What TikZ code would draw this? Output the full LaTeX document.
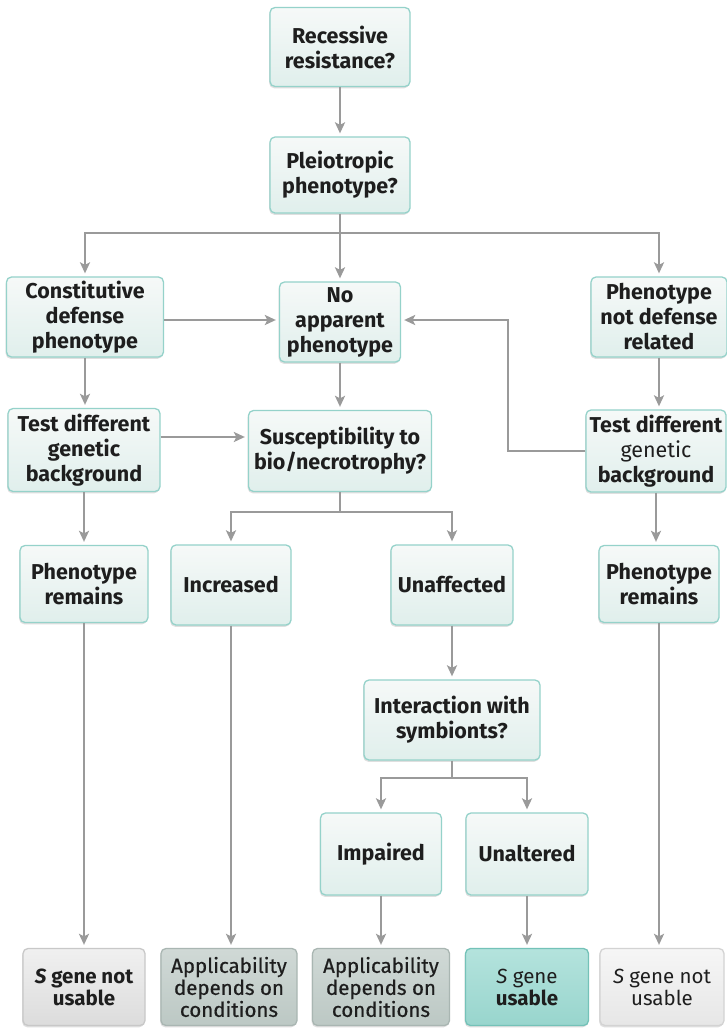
\documentclass[tikz,border=0pt]{standalone}
\usepackage{fontspec}
\setmainfont{Fira Sans}
\newfontfamily\medfont{Fira Sans}[FakeBold=0.6]
\usetikzlibrary{arrows.meta,shadows}
\definecolor{ink}{HTML}{1E1E1E}
\definecolor{boxline}{HTML}{95D2CA}
\definecolor{boxtop}{HTML}{F6F9F8}
\definecolor{boxbot}{HTML}{E0EFEC}
\definecolor{linkgrey}{HTML}{9A9A9A}
\definecolor{greytop}{HTML}{F0F0F0}
\definecolor{greybot}{HTML}{DCDCDC}
\definecolor{greyline}{HTML}{C8C8C8}
\definecolor{sagetop}{HTML}{D0D9D6}
\definecolor{sagebot}{HTML}{BCC8C4}
\definecolor{sageline}{HTML}{A9B6B2}
\definecolor{tealtop}{HTML}{B4E3DD}
\definecolor{tealbot}{HTML}{98D5CD}
\definecolor{tealline}{HTML}{74C2B8}
\begin{document}
\begin{tikzpicture}[x=1bp,y=-1bp,
  box/.style={draw=boxline, line width=1.3bp, rounded corners=5bp,
    top color=boxtop, bottom color=boxbot, align=center, text=ink,
    inner sep=0pt, font=\fontsize{21.5bp}{25bp}\selectfont\bfseries,
    drop shadow={shadow xshift=-0.8bp, shadow yshift=-1.8bp, opacity=0.25}},
  endbox/.style={box, minimum height=77bp, font=\fontsize{20.5bp}{22bp}\selectfont\bfseries},
  greyend/.style={endbox, draw=greyline, top color=greytop, bottom color=greybot},
  sageend/.style={endbox, draw=sageline, top color=sagetop, bottom color=sagebot},
  tealend/.style={endbox, draw=tealline, top color=tealtop, bottom color=tealbot},
  link/.style={draw=linkgrey, line width=2.2bp},
  arrow/.style={link, -{Stealth[length=11bp,width=10bp,inset=2.5bp]}, shorten >=3bp}
]
\fill[white] (0,0) rectangle (727,1028);
\useasboundingbox (0,0) rectangle (727,1028);

% question chain
\node[box, minimum width=140bp, minimum height=79bp] (rec) at (340,47) {Recessive\\resistance?};
\node[box, minimum width=140bp, minimum height=76bp] (ple) at (340,175) {Pleiotropic\\phenotype?};

% first level outcomes
\node[box, minimum width=157bp, minimum height=80bp] (con) at (85,317) {Constitutive\\defense\\phenotype};
\node[box, minimum width=121bp, minimum height=80bp] (noa) at (340,322) {No\\apparent\\phenotype};
\node[box, minimum width=136bp, minimum height=80bp] (pnd) at (659,317) {Phenotype\\not defense\\related};

% second level
\node[box, minimum width=152bp, minimum height=83bp] (tdl) at (84,450) {Test different\\genetic\\background};
\node[box, minimum width=183bp, minimum height=81bp] (sus) at (340,451) {Susceptibility to\\bio/necrotrophy?};
\node[box, minimum width=140bp, minimum height=82bp] (tdr) at (656,451) {Test different\\{\mdseries genetic}\\background};

% third level
\node[box, minimum width=128bp, minimum height=77bp] (prl) at (84,584) {Phenotype\\remains};
\node[box, minimum width=120bp, minimum height=80bp] (inc) at (231,585) {Increased};
\node[box, minimum width=122bp, minimum height=80bp] (una) at (452,585) {Unaffected};
\node[box, minimum width=120bp, minimum height=77bp] (prr) at (659,584) {Phenotype\\remains};

% symbiont branch
\node[box, minimum width=176bp, minimum height=80bp] (int) at (452,720) {Interaction with\\symbionts?};
\node[box, minimum width=121bp, minimum height=82bp] (imp) at (381,854) {Impaired};
\node[box, minimum width=122bp, minimum height=82bp] (unl) at (527,854) {Unaltered};

% conclusions
\node[greyend, minimum width=122bp] (b1) at (84,987) {\textit{S} gene not\\usable};
\node[sageend, minimum width=136bp, font=\fontsize{20.5bp}{22bp}\selectfont\medfont] (b2) at (229,987) {Applicability\\depends on\\conditions};
\node[sageend, minimum width=137bp, font=\fontsize{20.5bp}{22bp}\selectfont\medfont] (b3) at (381,987) {Applicability\\depends on\\conditions};
\node[tealend, minimum width=123bp] (b4) at (527,987) {{\mdseries\textit{S} gene}\\usable};
\node[greyend, minimum width=124bp, draw=greyline!80, top color=greytop!60, bottom color=greybot!70, font=\fontsize{20.5bp}{22bp}\selectfont\mdseries] (b5) at (662,987) {\textit{S} gene not\\usable};

% connectors
\draw[arrow] (rec) -- (ple);
\coordinate (fork1) at (340,233);
\draw[link] (ple.south) -- (fork1);
\draw[arrow] (fork1) -- (noa.north);
\draw[arrow] (fork1) -| (con.north);
\draw[arrow] (fork1) -| (pnd.north);

\coordinate (lvl1) at (0,320);
\draw[arrow] (con.east |- lvl1) -- (noa.west |- lvl1);
\coordinate (bend) at (508,320);
\draw[arrow] (tdr.west) -| (bend) -- (noa.east |- bend);

\draw[arrow] (con.south) -- (con.south |- tdl.north);
\draw[arrow] (noa.south) -- (noa.south |- sus.north);
\draw[arrow] (pnd.south) -- (pnd.south |- tdr.north);

\coordinate (lvl2) at (0,437);
\draw[arrow] (tdl.east |- lvl2) -- (sus.west |- lvl2);

\coordinate (fork2) at (340,512);
\draw[link] (sus.south) -- (fork2);
\draw[arrow] (fork2) -| (inc.north);
\draw[arrow] (fork2) -| (una.north);

\draw[arrow] (tdl.south) -- (tdl.south |- prl.north);
\draw[arrow] (tdr.south) -- (tdr.south |- prr.north);

\draw[arrow] (una.south) -- (una.south |- int.north);
\coordinate (fork3) at (452,778);
\draw[link] (int.south) -- (fork3);
\draw[arrow] (fork3) -| (imp.north);
\draw[arrow] (fork3) -| (unl.north);

\draw[arrow] (prl.south) -- (prl.south |- b1.north);
\draw[arrow] (inc.south) -- (inc.south |- b2.north);
\draw[arrow] (imp.south) -- (imp.south |- b3.north);
\draw[arrow] (unl.south) -- (unl.south |- b4.north);
\draw[arrow] (prr.south) -- (prr.south |- b5.north);
\end{tikzpicture}
\end{document}
